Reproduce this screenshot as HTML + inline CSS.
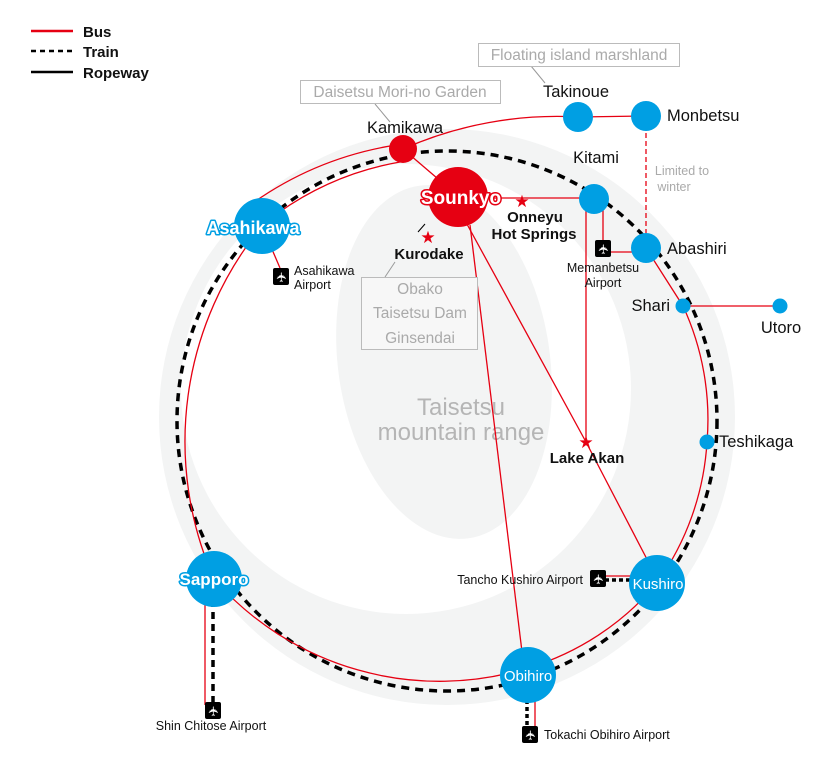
<!DOCTYPE html>
<html><head><meta charset="utf-8"><style>
html,body{margin:0;padding:0;background:#fff;}
svg{display:block;font-family:"Liberation Sans","DejaVu Sans",sans-serif;}
.t{font-size:16.5px;fill:#111;}
.s{font-size:12.5px;fill:#111;}
.b{font-size:15px;font-weight:bold;fill:#111;}
.g{font-size:15.5px;fill:#aaa;}
.w{font-weight:bold;fill:#fff;paint-order:stroke;stroke-linejoin:round;}
.ap{fill:#fff;font-size:13px;font-family:"DejaVu Sans",sans-serif;}
</style></head><body>
<svg width="835" height="772" viewBox="0 0 835 772">
<circle cx="447" cy="417" r="288" fill="#f3f4f4"/>
<circle cx="406" cy="389" r="225" fill="#fff"/>
<ellipse cx="444" cy="362" rx="106" ry="178" fill="#f3f4f4" transform="rotate(-8 444 362)"/>
<text x="461" y="415" text-anchor="middle" font-size="24" fill="#b5b5b5">Taisetsu</text>
<text x="461" y="440" text-anchor="middle" font-size="24" fill="#b5b5b5">mountain range</text>

<line x1="31" y1="31" x2="73" y2="31" stroke="#e60012" stroke-width="2.5"/>
<line x1="31" y1="51" x2="73" y2="51" stroke="#000" stroke-width="2.5" stroke-dasharray="5 4"/>
<line x1="31" y1="72" x2="73" y2="72" stroke="#000" stroke-width="2.5"/>
<text x="83" y="37" class="b" font-size="14">Bus</text>
<text x="83" y="57" class="b" font-size="14">Train</text>
<text x="83" y="78" class="b" font-size="14">Ropeway</text>

<circle cx="447" cy="421" r="270" fill="none" stroke="#000" stroke-width="3.5" stroke-dasharray="8 6"/>
<line x1="213" y1="600" x2="213" y2="705" stroke="#000" stroke-width="3.5" stroke-dasharray="7 5"/>
<line x1="527" y1="700" x2="527" y2="727" stroke="#000" stroke-width="3.5" stroke-dasharray="4 3"/>
<line x1="605" y1="580" x2="632" y2="580" stroke="#000" stroke-width="3.5" stroke-dasharray="4 3"/>

<g fill="none" stroke="#e60012" stroke-width="1.3">
<path d="M400 162 A300 300 0 0 0 278 213 L262 226 A340 340 0 0 0 214 579 A300 300 0 0 0 528 668 A270 270 0 0 0 657 583 A270 270 0 0 0 707 442 A270 270 0 0 0 683 306 L646 248"/>
<path d="M250 205 A340 340 0 0 1 390 146 L403 149 A380 380 0 0 1 578 117 L646 116"/>
<line x1="403" y1="149" x2="458" y2="196"/>
<line x1="458" y1="198" x2="594" y2="198"/>
<line x1="470" y1="225" x2="523" y2="660"/>
<line x1="462" y1="215" x2="586" y2="442"/>
<line x1="586" y1="442" x2="650" y2="565"/>
<line x1="586" y1="205" x2="586" y2="442"/>
<line x1="603" y1="205" x2="603" y2="252"/>
<line x1="603" y1="252" x2="646" y2="252"/>
<line x1="683" y1="306" x2="780" y2="306"/>
<line x1="262" y1="226" x2="280" y2="268"/>
<line x1="205" y1="590" x2="205" y2="705"/>
<line x1="535" y1="690" x2="535" y2="727"/>
<line x1="595" y1="576" x2="645" y2="576"/>
<line x1="646" y1="125" x2="646" y2="240" stroke-dasharray="5 3"/>
</g>

<g stroke="#999" fill="none" stroke-width="1">
<line x1="375" y1="104" x2="390" y2="122"/>
<line x1="531" y1="66" x2="545" y2="83"/>
<line x1="395" y1="262" x2="385" y2="277"/>
<line x1="425" y1="224" x2="418" y2="232" stroke="#000"/>
<rect x="300.5" y="80.5" width="200" height="23" fill="#fff" stroke="#bbb"/>
<rect x="478.5" y="43.5" width="201" height="23" fill="#fff" stroke="#bbb"/>
<rect x="361.5" y="277.5" width="116" height="72" fill="#f7f7f7" stroke="#bbb"/>
</g>
<text x="400" y="97" text-anchor="middle" class="g">Daisetsu Mori-no Garden</text>
<text x="579" y="60" text-anchor="middle" class="g">Floating island marshland</text>
<text x="420" y="294" text-anchor="middle" class="g">Obako</text>
<text x="420" y="318" text-anchor="middle" class="g">Taisetsu Dam</text>
<text x="420" y="343" text-anchor="middle" class="g">Ginsendai</text>

<g fill="#009fe3">
<circle cx="262" cy="226" r="28"/>
<circle cx="214" cy="579" r="28"/>
<circle cx="528" cy="675" r="28"/>
<circle cx="657" cy="583" r="28"/>
<circle cx="578" cy="117" r="15"/>
<circle cx="646" cy="116" r="15"/>
<circle cx="594" cy="199" r="15"/>
<circle cx="646" cy="248" r="15"/>
<circle cx="683" cy="306" r="7.5"/>
<circle cx="780" cy="306" r="7.5"/>
<circle cx="707" cy="442" r="7.5"/>
</g>
<circle cx="403" cy="149" r="14" fill="#e60012"/>
<circle cx="458" cy="197" r="30" fill="#e60012"/>

<g fill="#e60012" font-size="17" text-anchor="middle" font-family="DejaVu Sans,sans-serif">
<text x="522" y="207">★</text>
<text x="428" y="243">★</text>
<text x="586" y="448">★</text>
</g>

<g>
<rect x="273" y="268" width="16" height="17" rx="2" fill="#000"/>
<rect x="595" y="240" width="16" height="17" rx="2" fill="#000"/>
<rect x="205" y="702" width="16" height="17" rx="2" fill="#000"/>
<rect x="522" y="726" width="16" height="17" rx="2" fill="#000"/>
<rect x="590" y="570" width="16" height="17" rx="2" fill="#000"/>
</g>
<g class="ap" text-anchor="middle">
<text x="281" y="282" transform="rotate(-90 281 277)">✈</text>
<text x="603" y="254" transform="rotate(-90 603 249)">✈</text>
<text x="213" y="716" transform="rotate(-90 213 711)">✈</text>
<text x="530" y="740" transform="rotate(-90 530 735)">✈</text>
<text x="598" y="584" transform="rotate(-90 598 579)">✈</text>
</g>

<text x="253" y="234" text-anchor="middle" class="w" font-size="18" stroke="#009fe3" stroke-width="3">Asahikawa</text>
<text x="214" y="585" text-anchor="middle" class="w" font-size="17" stroke="#009fe3" stroke-width="3">Sapporo</text>
<text x="461" y="204" text-anchor="middle" class="w" font-size="19" stroke="#e60012" stroke-width="3">Sounkyo</text>
<text x="528" y="681" text-anchor="middle" font-size="15" fill="#fff">Obihiro</text>
<text x="658" y="589" text-anchor="middle" font-size="15" fill="#fff">Kushiro</text>

<text x="405" y="133" text-anchor="middle" class="t">Kamikawa</text>
<text x="576" y="97" text-anchor="middle" class="t">Takinoue</text>
<text x="667" y="121" class="t">Monbetsu</text>
<text x="596" y="163" text-anchor="middle" class="t">Kitami</text>
<text x="667" y="254" class="t">Abashiri</text>
<text x="670" y="311" text-anchor="end" class="t">Shari</text>
<text x="781" y="333" text-anchor="middle" class="t">Utoro</text>
<text x="719" y="447" class="t">Teshikaga</text>
<text x="682" y="175" text-anchor="middle" font-size="12.5" fill="#aaa">Limited to</text>
<text x="674" y="191" text-anchor="middle" font-size="12.5" fill="#aaa">winter</text>
<text x="535" y="222" text-anchor="middle" class="b">Onneyu</text>
<text x="534" y="239" text-anchor="middle" class="b">Hot Springs</text>
<text x="429" y="259" text-anchor="middle" class="b">Kurodake</text>
<text x="587" y="463" text-anchor="middle" class="b">Lake Akan</text>
<text x="294" y="275" class="s">Asahikawa</text>
<text x="294" y="289" class="s">Airport</text>
<text x="603" y="272" text-anchor="middle" class="s">Memanbetsu</text>
<text x="603" y="287" text-anchor="middle" class="s">Airport</text>
<text x="583" y="584" text-anchor="end" class="s" font-size="13">Tancho Kushiro Airport</text>
<text x="211" y="730" text-anchor="middle" class="s" font-size="13">Shin Chitose Airport</text>
<text x="544" y="739" class="s" font-size="13">Tokachi Obihiro Airport</text>
</svg>
</body></html>
